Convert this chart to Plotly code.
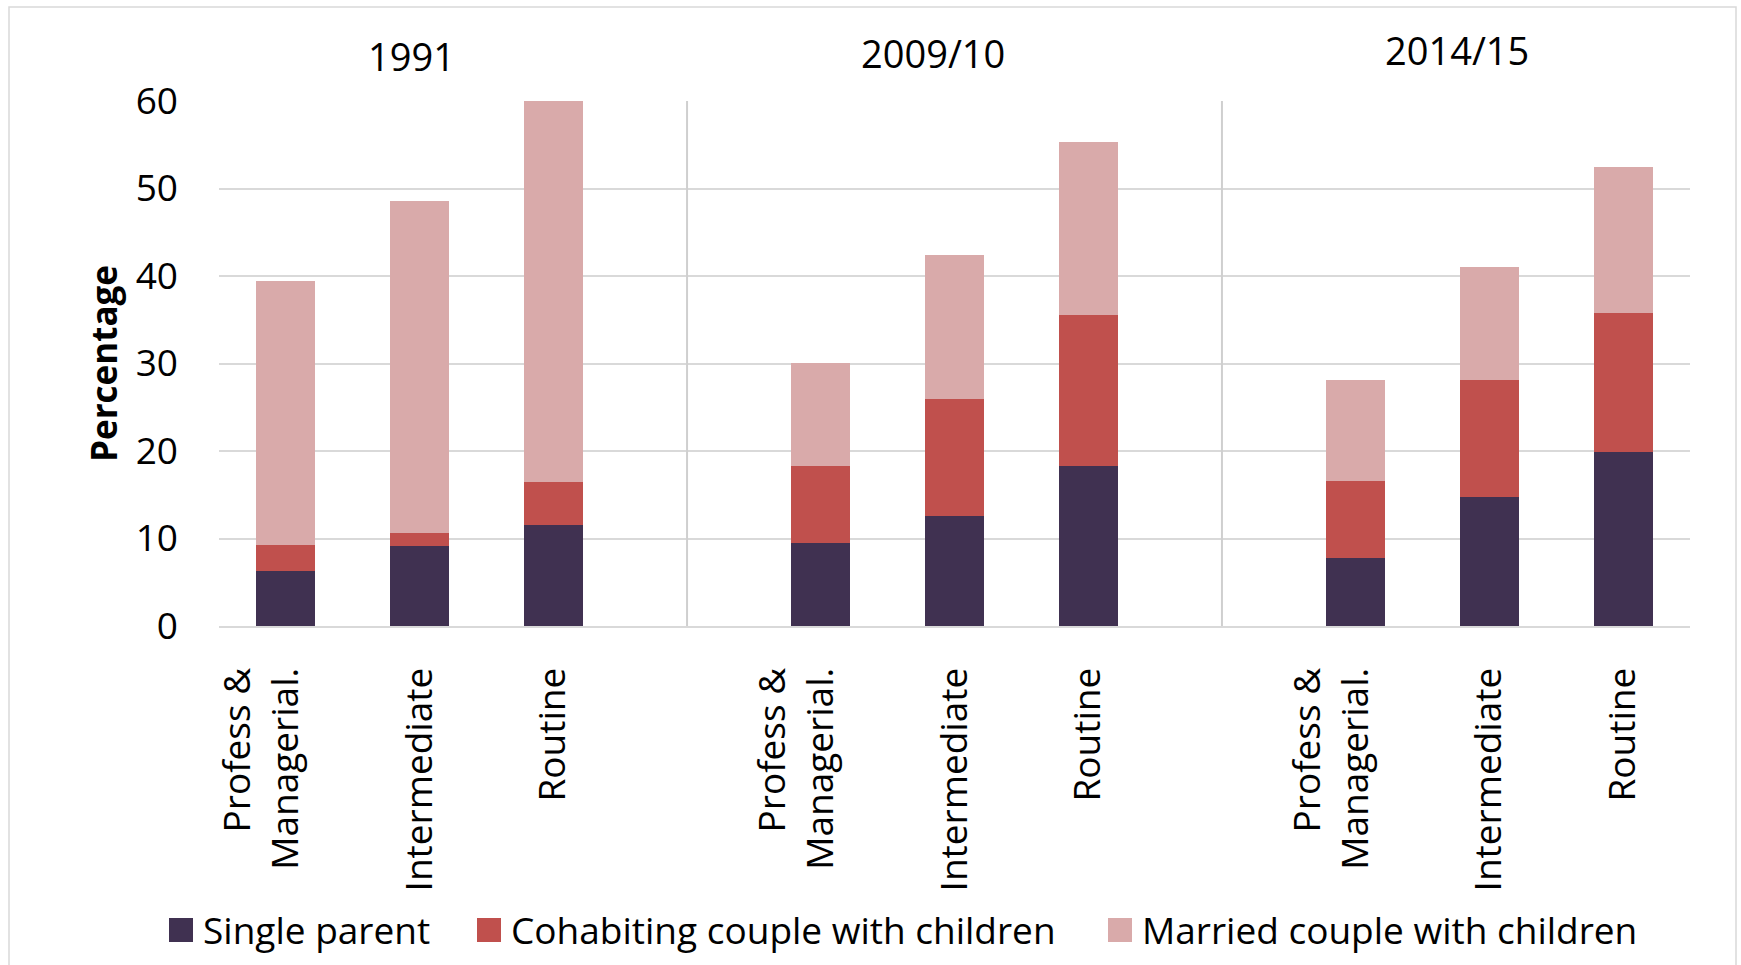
import plotly.graph_objects as go

# Survey periods and occupational classes
periods = ["1991", "2009/10", "2014/15"]
classes = ["Profess &<br>Managerial.<br>\u00a0", "Intermediate", "Routine"]

# Percentages per period and class (1991 P&M, Int, Routine, 2009/10 ..., 2014/15 ...)
single_parent = [6.3, 9.1, 11.5, 9.5, 12.6, 18.3, 7.8, 14.8, 19.9]
cohabiting = [3.0, 1.5, 5.0, 8.8, 13.3, 17.3, 8.8, 13.3, 15.9]
married = [30.1, 38.0, 43.5, 11.8, 16.5, 19.7, 11.5, 12.9, 16.7]

y_ticks = [0, 10, 20, 30, 40, 50, 60]

series = [
    ("Single parent", single_parent, "#403151"),
    ("Cohabiting couple with children", cohabiting, "#C0504D"),
    ("Married couple with children", married, "#D9AAAA"),
]

W, H = 1741, 965
L, R, T, B = 219, 51, 101, 339
plot_w = W - L - R
plot_h = H - T - B


def px_x(px):
    return (px - L) / plot_w


def px_y(py):
    return (H - B - py) / plot_h


# Each period takes four slots on the x axis: three classes plus a divider slot
slot_step = len(classes) + 1
x_pos = [p * slot_step + c for p in range(len(periods)) for c in range(len(classes))]
tick_text = [classes[c] for p in range(len(periods)) for c in range(len(classes))]
dividers = [p * slot_step + len(classes) for p in range(len(periods) - 1)]

FONT = "Open Sans"
GRID = "#D9D9D9"
BLACK = "#000000"

fig = go.Figure()
for name, vals, color in series:
    fig.add_trace(go.Bar(
        x=x_pos, y=vals, name=name, width=0.44, showlegend=False,
        marker=dict(color=color, line=dict(width=0)),
    ))

shapes = []
for d in dividers:
    shapes.append(dict(type="line", xref="x", yref="y", x0=d, x1=d,
                       y0=0, y1=max(y_ticks), line=dict(color="#CFCFCF", width=2)))
# outer frame of the chart
shapes.append(dict(type="rect", xref="paper", yref="paper",
                   x0=px_x(9), x1=px_x(1736), y0=px_y(7), y1=px_y(975),
                   line=dict(color=GRID, width=1.5), layer="below"))

annotations = []

# period headings above each group
title_x = [411, 933, 1457]
title_y = [56, 53, 50]
for name, tx, ty in zip(periods, title_x, title_y):
    annotations.append(dict(text=name, xref="paper", yref="paper",
                            x=px_x(tx), y=px_y(ty), showarrow=False,
                            xanchor="center", yanchor="middle",
                            font=dict(family=FONT, size=38, color=BLACK)))

# legend row: colour swatch followed by the series name
legend_left = [169, 477, 1108]
legend_mid = 930
swatch = 24
for (name, _, color), lx in zip(series, legend_left):
    shapes.append(dict(type="rect", xref="paper", yref="paper",
                       x0=px_x(lx), x1=px_x(lx + swatch),
                       y0=px_y(legend_mid - swatch / 2), y1=px_y(legend_mid + swatch / 2),
                       fillcolor=color, line=dict(width=0)))
    annotations.append(dict(text=name, xref="paper", yref="paper",
                            x=px_x(lx + 32), y=px_y(legend_mid - 1), showarrow=False,
                            xanchor="left", yanchor="middle",
                            font=dict(family=FONT, size=37, color=BLACK)))

fig.update_layout(
    width=W, height=H,
    margin=dict(l=L, r=R, t=T, b=B, pad=0, autoexpand=False),
    paper_bgcolor="white", plot_bgcolor="white",
    barmode="stack", bargap=0,
    font=dict(family=FONT, color=BLACK),
    shapes=shapes, annotations=annotations,
    showlegend=False,
    xaxis=dict(range=[-0.5, x_pos[-1] + 0.5], tickvals=x_pos, ticktext=tick_text,
               tickangle=-90, showgrid=False, zeroline=False, automargin=False,
               showline=True, linecolor=GRID, linewidth=2, ticks="",
               ticklabelstandoff=25,
               tickfont=dict(family=FONT, size=37, color=BLACK)),
    yaxis=dict(range=[0, 60], tickvals=y_ticks, showgrid=True, gridcolor=GRID,
               gridwidth=2, zeroline=False, showline=False, ticks="",
               automargin=False, ticklabelstandoff=40,
               tickfont=dict(family=FONT, size=37, color=BLACK),
               title=dict(text="<b>Percentage</b>", standoff=7,
                          font=dict(family=FONT, size=35, color=BLACK))),
)

fig.write_html("out.html")
